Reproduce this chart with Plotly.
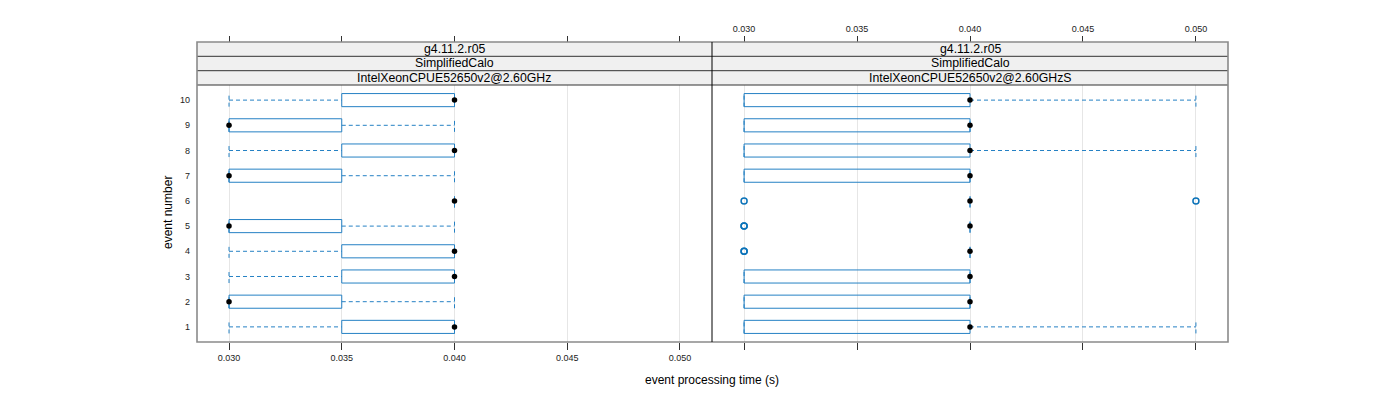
import plotly.graph_objects as go

# ---------------- data ----------------
events = list(range(1, 11))
strip_top = "g4.11.2.r05"
strip_mid = "SimplifiedCalo"
panel_labels = ["IntelXeonCPUE52650v2@2.60GHz", "IntelXeonCPUE52650v2@2.60GHzS"]
x_tickvals = [0.030, 0.035, 0.040, 0.045, 0.050]
x_ticktext = ["0.030", "0.035", "0.040", "0.045", "0.050"]
y_ticktext = [str(e) for e in events]

# panel 1: IntelXeonCPUE52650v2@2.60GHz  (events 1..10)
ghz_lo  = [0.030, 0.030, 0.030, 0.030, 0.030, 0.040, 0.030, 0.030, 0.030, 0.030]
ghz_q1  = [0.035, 0.030, 0.035, 0.035, 0.030, 0.040, 0.030, 0.035, 0.030, 0.035]
ghz_med = [0.040, 0.030, 0.040, 0.040, 0.030, 0.040, 0.030, 0.040, 0.030, 0.040]
ghz_q3  = [0.040, 0.035, 0.040, 0.040, 0.035, 0.040, 0.035, 0.040, 0.035, 0.040]
ghz_hi  = [0.040, 0.040, 0.040, 0.040, 0.040, 0.040, 0.040, 0.040, 0.040, 0.040]
ghz_out = [[], [], [], [], [], [], [], [], [], []]

# panel 2: IntelXeonCPUE52650v2@2.60GHzS
ghzs_lo  = [0.030, 0.030, 0.030, 0.040, 0.040, 0.040, 0.030, 0.030, 0.030, 0.030]
ghzs_q1  = [0.030, 0.030, 0.030, 0.040, 0.040, 0.040, 0.030, 0.030, 0.030, 0.030]
ghzs_med = [0.040, 0.040, 0.040, 0.040, 0.040, 0.040, 0.040, 0.040, 0.040, 0.040]
ghzs_q3  = [0.040, 0.040, 0.040, 0.040, 0.040, 0.040, 0.040, 0.040, 0.040, 0.040]
ghzs_hi  = [0.050, 0.040, 0.040, 0.040, 0.040, 0.040, 0.040, 0.050, 0.040, 0.050]
ghzs_out = [[], [], [], [0.030, 0.030], [0.030, 0.030], [0.030, 0.050], [], [], [], []]

# ---------------- style ----------------
W, H = 1400, 400
FONT = "Liberation Sans, Arial, Helvetica, sans-serif"
BOXCOL = "#2581c4"
OUTCOL = "#0a72b8"
FRAME = "#8a8a8a"
HALF = 0.26           # half box height in y units
XRANGE = [0.02858, 0.05142]
YRANGE = [0.4, 10.6]

px = lambda v: v / W
py = lambda v: 1 - v / H

L, MID, R = 197, 712, 1228
PTOP, PBOT = 85, 342
STRIPS = [42, 56.3, 70.7, 85]

fig = go.Figure()


def add_panel(lo, q1, med, q3, hi, out, xa, ya):
    bx, by, wx, wy = [], [], [], []
    ox, oy = [], []
    for i, e in enumerate(events):
        if q3[i] > q1[i]:
            bx += [q1[i], q3[i], q3[i], q1[i], q1[i], None]
            by += [e - HALF, e - HALF, e + HALF, e + HALF, e - HALF, None]
        if q1[i] > lo[i]:
            wx += [lo[i], q1[i], None]
            wy += [e, e, None]
        if hi[i] > q3[i]:
            wx += [q3[i], hi[i], None]
            wy += [e, e, None]
        wx += [lo[i], lo[i], None]
        wy += [e - HALF, e + HALF, None]
        wx += [hi[i], hi[i], None]
        wy += [e - HALF, e + HALF, None]
        for o in out[i]:
            ox.append(o)
            oy.append(e)
    common = dict(xaxis=xa, yaxis=ya, showlegend=False, hoverinfo="skip")
    fig.add_trace(go.Scatter(x=wx, y=wy, mode="lines",
                             line=dict(color=BOXCOL, width=1, dash="4px,3px"), **common))
    fig.add_trace(go.Scatter(x=bx, y=by, mode="lines",
                             line=dict(color=BOXCOL, width=1), **common))
    if ox:
        fig.add_trace(go.Scatter(x=ox, y=oy, mode="markers",
                                 marker=dict(symbol="circle-open", size=6, color=OUTCOL,
                                             line=dict(width=1.5, color=OUTCOL)), **common))
    fig.add_trace(go.Scatter(x=med, y=events, mode="markers",
                             marker=dict(symbol="circle", size=5.5, color="black"), **common))


add_panel(ghz_lo, ghz_q1, ghz_med, ghz_q3, ghz_hi, ghz_out, "x", "y")
add_panel(ghzs_lo, ghzs_q1, ghzs_med, ghzs_q3, ghzs_hi, ghzs_out, "x2", "y2")

# dummy traces so the extra tick-only axes get drawn
fig.add_trace(go.Scatter(x=[0.04], y=[5], xaxis="x3", yaxis="y", mode="markers",
                         marker=dict(opacity=0), showlegend=False, hoverinfo="skip"))
fig.add_trace(go.Scatter(x=[0.04], y=[5], xaxis="x4", yaxis="y2", mode="markers",
                         marker=dict(opacity=0), showlegend=False, hoverinfo="skip"))

tickfont = dict(family=FONT, size=9, color="#222222")
xbase = dict(range=XRANGE, tickvals=x_tickvals, ticktext=x_ticktext, ticks="outside",
             tickcolor="#333333", tickwidth=1, showline=False, zeroline=False,
             tickfont=tickfont, fixedrange=True)

fig.update_layout(
    width=W, height=H, autosize=False,
    margin=dict(l=0, r=0, t=0, b=0),
    paper_bgcolor="white", plot_bgcolor="white",
    font=dict(family=FONT, size=11, color="black"),
    xaxis=dict(domain=[px(L), px(MID)], anchor="y", side="bottom", ticklen=7,
               showgrid=True, gridcolor="#e6e6e6", gridwidth=1, **xbase),
    xaxis2=dict(domain=[px(MID), px(R)], anchor="free", position=py(STRIPS[0]), side="top",
                ticklen=6, showgrid=True, gridcolor="#e6e6e6", gridwidth=1, **xbase),
    xaxis3=dict(overlaying="x", anchor="free", position=py(STRIPS[0]), side="top",
                ticklen=6, showticklabels=False, showgrid=False, **xbase),
    xaxis4=dict(overlaying="x2", anchor="y2", side="bottom", ticklen=7,
                showticklabels=False, showgrid=False, **xbase),
    yaxis=dict(domain=[py(PBOT), py(PTOP)], anchor="x", range=YRANGE, tickvals=events,
               ticktext=y_ticktext, ticks="", showgrid=False, zeroline=False, showline=False,
               tickfont=dict(family=FONT, size=9, color="#222222"), ticklabelstandoff=6,
               fixedrange=True),
    yaxis2=dict(domain=[py(PBOT), py(PTOP)], anchor="x2", range=YRANGE, tickvals=events,
                showticklabels=False, ticks="", showgrid=False, zeroline=False,
                showline=False, fixedrange=True),
)

shapes = []
# strip backgrounds
shapes.append(dict(type="rect", xref="paper", yref="paper", x0=px(L), x1=px(R),
                   y0=py(STRIPS[3]), y1=py(STRIPS[0]), fillcolor="#f0f0f0",
                   line=dict(width=0), layer="below"))
# strip separators
for yy in STRIPS[1:]:
    shapes.append(dict(type="line", xref="paper", yref="paper", x0=px(L), x1=px(R),
                       y0=py(yy), y1=py(yy), line=dict(color="#333333", width=1)))
# outer frame
shapes.append(dict(type="rect", xref="paper", yref="paper", x0=px(L), x1=px(R),
                   y0=py(PBOT), y1=py(STRIPS[0]), line=dict(color=FRAME, width=1.6),
                   fillcolor="rgba(0,0,0,0)"))
# divider between panels
shapes.append(dict(type="line", xref="paper", yref="paper", x0=px(MID), x1=px(MID),
                   y0=py(PBOT), y1=py(STRIPS[0]), line=dict(color="black", width=1)))
fig.update_layout(shapes=shapes)

ann = []
strip_texts = [strip_top, strip_mid]
for k, (x0, x1) in enumerate([(L, MID), (MID, R)]):
    xc = px((x0 + x1) / 2)
    for j, txt in enumerate(strip_texts + [panel_labels[k]]):
        yc = py((STRIPS[j] + STRIPS[j + 1]) / 2)
        ann.append(dict(text=txt, x=xc, y=yc, xref="paper", yref="paper", showarrow=False,
                        xanchor="center", yanchor="middle",
                        font=dict(family=FONT, size=12.3, color="black")))
ann.append(dict(text="event processing time (s)", x=px(712), y=py(380), xref="paper",
                yref="paper", showarrow=False, xanchor="center", yanchor="middle",
                font=dict(family=FONT, size=12, color="black")))
ann.append(dict(text="event number", x=px(168), y=py(213), xref="paper", yref="paper",
                showarrow=False, xanchor="center", yanchor="middle", textangle=-90,
                font=dict(family=FONT, size=12, color="black")))
fig.update_layout(annotations=ann)

fig.write_html("out.html")
